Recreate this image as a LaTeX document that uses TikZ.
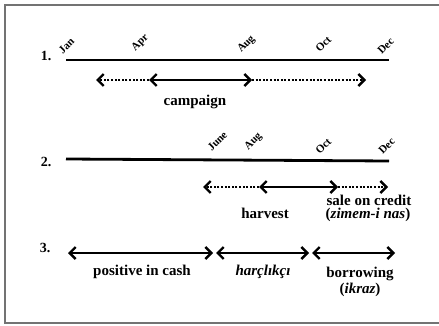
\documentclass[tikz,border=0pt]{standalone}
\usepackage{fontspec}
\setmainfont{Liberation Serif}
\usetikzlibrary{arrows.meta}

\tikzset{
  month/.style={font=\bfseries\fontsize{11}{12}\selectfont, rotate=45, anchor=south west, inner sep=0pt},
  rownum/.style={font=\bfseries\fontsize{14}{15}\selectfont},
  lbl/.style={font=\bfseries\fontsize{15}{16}\selectfont, align=center},
  axis/.style={line width=2.8pt},
  span/.style={line width=2.4pt, {Straight Barb[length=6pt,width=12pt,line width=2.4pt]}-{Straight Barb[length=6pt,width=12pt,line width=2.4pt]}},
  ext/.style={line width=2.2pt, dash pattern=on 2pt off 1.6pt, -{Straight Barb[length=6pt,width=12pt,line width=2.4pt]}},
}

\begin{document}
\begin{tikzpicture}[x=1pt,y=-1pt]

\useasboundingbox (0,0) rectangle (439,326) ;

% frame
\draw[black!55, line width=2.6pt] (439,5) -- (5,5) -- (5,323) -- (439,323) ;

% 1. campaign
\node[rownum] (n1) at (46,56) {1.} ;
\coordinate (a1) at (66,60) ;
\coordinate (b1) at (389,60) ;
\draw[axis] (a1) -- (b1) ;

\node[month] (jan1) at (63,55) {Jan} ;
\node[month] (apr1) at (137,53) {Apr} ;
\node[month] (aug1) at (243,55) {Aug} ;
\node[month] (oct1) at (320,53) {Oct} ;
\node[month] (dec1) at (382,55) {Dec} ;

\coordinate (c1l) at (96,80) ;
\coordinate (c1a) at (149,80) ;
\coordinate (c1b) at (252,80) ;
\coordinate (c1r) at (366,80) ;
\draw[ext] (c1a) -- (c1l) ;
\draw[ext] (c1b) -- (c1r) ;
\draw[span] (c1a) -- (c1b) ;
\node[lbl] (camp) at (195,102) {campaign} ;

% 2. harvest
\node[rownum] (n2) at (46,162) {2.} ;
\coordinate (a2) at (66,159) ;
\coordinate (b2) at (389,161) ;
\draw[axis] (a2) -- (b2) ;

\node[month] (jun2) at (212,152) {June} ;
\node[month] (aug2) at (250,152) {Aug} ;
\node[month] (oct2) at (320,155) {Oct} ;
\node[month] (dec2) at (383,155) {Dec} ;

\coordinate (c2l) at (203,187) ;
\coordinate (c2a) at (259,187) ;
\coordinate (c2b) at (338,187) ;
\coordinate (c2r) at (388,187) ;
\draw[ext] (c2a) -- (c2l) ;
\draw[ext] (c2b) -- (c2r) ;
\draw[span] (c2a) -- (c2b) ;
\node[lbl] (harv) at (265,213) {harvest} ;
\node[lbl] (sale) at (369,200) {sale on credit} ;
\node[lbl] (zim) at (368,215) {(\textit{zimem-i nas})} ;

% 3. cash
\node[rownum] (n3) at (45,248) {3.} ;
\coordinate (d0) at (68,253) ;
\coordinate (d1) at (213,253) ;
\coordinate (d2) at (216,253) ;
\coordinate (d3) at (309,253) ;
\coordinate (d4) at (312,253) ;
\coordinate (d5) at (395,253) ;
\draw[span] (d0) -- (d1) ;
\draw[span] (d2) -- (d3) ;
\draw[span] (d4) -- (d5) ;
\node[lbl] (pos) at (142,272) {positive in cash} ;
\node[lbl] (harc) at (263,272) {\textit{harçlıkçı}} ;
\node[lbl] (borr) at (360,274) {borrowing} ;
\node[lbl] (ikr) at (360,290) {(\textit{ikraz})} ;

\end{tikzpicture}
\end{document}
